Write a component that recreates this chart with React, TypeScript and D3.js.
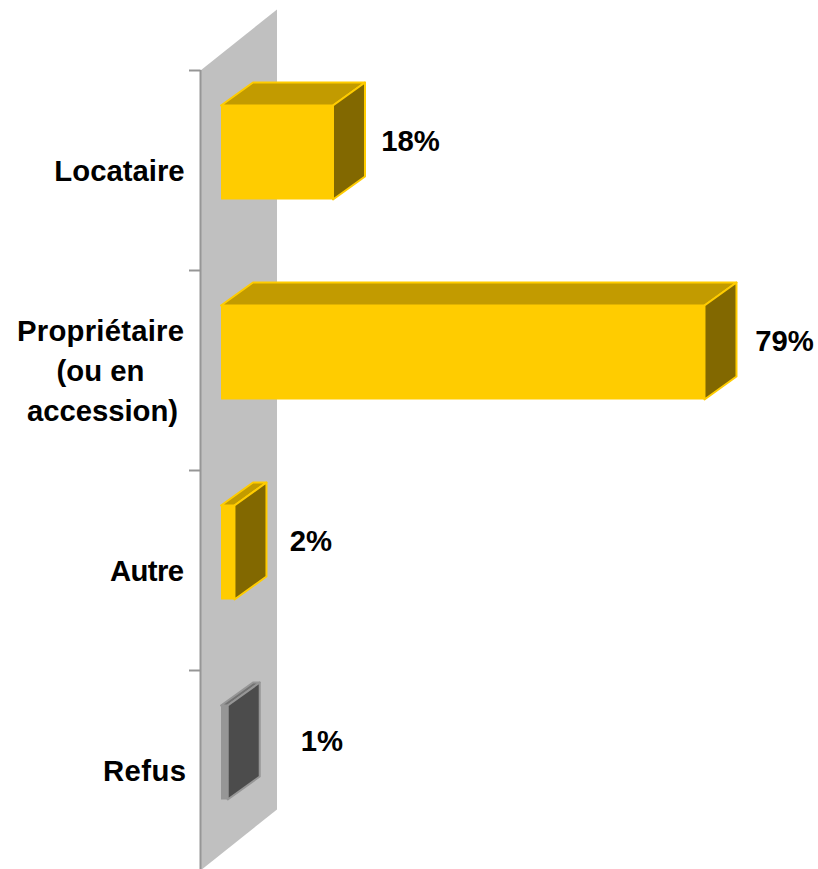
import React from "react";
import * as d3 from "d3";

const categories = ["Locataire", "Propriétaire", "Autre", "Refus"];
const categoryLines = [["Locataire"], ["Propriétaire", "(ou en", "accession)"], ["Autre"], ["Refus"]];
const values = [18.3, 79, 2.2, 1.1];
const valueLabels = ["18%", "79%", "2%", "1%"];
const faceColors = ["#FFCC00", "#FFCC00", "#FFCC00", "#969696"];
const topColors = ["#C29B00", "#C29B00", "#C29B00", "#727272"];
const sideColors = ["#826800", "#826800", "#826800", "#4C4C4C"];
const edgeColors = ["#FFCC00", "#FFCC00", "#FFCC00", "#969696"];

const FONT = "'Liberation Sans', Arial, sans-serif";
const x = d3.scaleLinear().domain([0, 100]).range([221, 833]);
const y = d3.scaleBand<string>().domain(categories).range([70.5, 870.5]).paddingInner(0).paddingOuter(0);
const wallX = 200.5;
const wallDx = 76.5;
const wallDy = 61;
const barDx = 32;
const barDy = 23;
const barInset = 35;
const barH = 94;
const valueX = [410.5, 784.5, 311, 322];
const labelLineH = 40;
const lineGeom: Record<string, { cx: number; w?: number }> = {
  Locataire: { cx: 119.5 },
  Propriétaire: { cx: 100.5, w: 167 },
  "(ou en": { cx: 100.5 },
  "accession)": { cx: 102.5, w: 151 },
  Autre: { cx: 147, w: 74 },
  Refus: { cx: 144.5, w: 83 },
};

const poly = (p: number[][]) => p.map((q) => q.join(",")).join(" ");

export default function App() {
  return (
    <svg
      width={818}
      height={869}
      style={{ position: "absolute", left: 0, top: 0, display: "block" }}
      fontFamily={FONT}
      fontWeight="bold"
      fontSize={29.3}
    >
      <polygon
        points={poly([
          [wallX, 70.5],
          [wallX + wallDx, 70.5 - wallDy],
          [wallX + wallDx, 870.5 - wallDy],
          [wallX, 870.5],
        ])}
        fill="#C0C0C0"
      />
      <line x1={wallX} x2={wallX} y1={70} y2={870} stroke="#969696" strokeWidth={2} />
      {[...categories.map((c) => y(c)!), 870.5].map((t, i) => (
        <line key={i} x1={189} x2={wallX} y1={t} y2={t} stroke="#969696" strokeWidth={2} />
      ))}
      {categories.map((c, i) => {
        const x0 = x(0);
        const x1 = x(values[i]);
        const yt = y(c)! + barInset;
        const yb = yt + barH;
        return (
          <g key={c} strokeWidth={2} strokeLinejoin="round" stroke={edgeColors[i]}>
            <polygon
              points={poly([
                [x0, yt],
                [x0 + barDx, yt - barDy],
                [x1 + barDx, yt - barDy],
                [x1, yt],
              ])}
              fill={topColors[i]}
            />
            <polygon
              points={poly([
                [x1, yt],
                [x1 + barDx, yt - barDy],
                [x1 + barDx, yb - barDy],
                [x1, yb],
              ])}
              fill={sideColors[i]}
            />
            <rect x={x0} y={yt} width={x1 - x0} height={barH} fill={faceColors[i]} stroke="none" />
          </g>
        );
      })}
      {categories.map((c, i) => {
        const lines = categoryLines[i];
        const cy = y(c)! + 100;
        const y0 = cy + 10 - ((lines.length - 1) * labelLineH) / 2;
        return lines.map((l, k) => {
          const g = lineGeom[l];
          return (
            <text
              key={l}
              x={g.w ? g.cx - g.w / 2 : g.cx}
              y={y0 + k * labelLineH}
              textAnchor={g.w ? "start" : "middle"}
              textLength={g.w}
              lengthAdjust="spacing"
              fill="#000"
            >
              {l}
            </text>
          );
        });
      })}
      {categories.map((c, i) => (
        <text key={c} x={valueX[i]} y={y(c)! + 80} textAnchor="middle" fill="#000">
          {valueLabels[i]}
        </text>
      ))}
    </svg>
  );
}
